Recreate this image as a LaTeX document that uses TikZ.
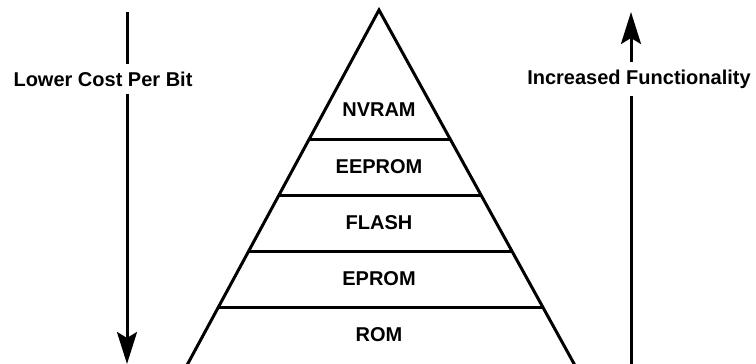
\documentclass[tikz,border=0pt]{standalone}
\usepackage{fontspec}
\setmainfont{Liberation Sans}
\usetikzlibrary{arrows.meta}
\begin{document}
\begin{tikzpicture}[x=1pt,y=-1pt,
  edge/.style={line width=3pt},
  lbl/.style={font=\fontsize{20}{23}\selectfont\bfseries, inner sep=1pt},
  side/.style={font=\fontsize{20}{23}\selectfont\bfseries, fill=white, inner xsep=3pt, inner ysep=8pt},
  arr/.style={line width=3pt, -{Stealth[length=32pt,width=20pt,inset=6pt]}}]
\useasboundingbox (0,0) rectangle (756,364);
\clip (0,0) rectangle (756,364);
% triangle
\coordinate (apex) at (379,10);
\coordinate (bl) at (179,380);
\coordinate (br) at (583,380);
\draw[edge, line join=miter] (bl) -- (apex) -- (br);
% horizontal dividers
\coordinate (l1) at (309,139); \coordinate (r1) at (450,139);
\coordinate (l2) at (279,195); \coordinate (r2) at (481,195);
\coordinate (l3) at (248,251); \coordinate (r3) at (512,251);
\coordinate (l4) at (218,307); \coordinate (r4) at (543,307);
\draw[edge] (l1) -- (r1);
\draw[edge] (l2) -- (r2);
\draw[edge] (l3) -- (r3);
\draw[edge] (l4) -- (r4);
% labels
\node[lbl] (nvram) at (379,110) {NVRAM};
\node[lbl] (eeprom) at (379,167) {EEPROM};
\node[lbl] (flash) at (379,223) {FLASH};
\node[lbl] (eprom) at (379,279) {EPROM};
\node[lbl] (rom) at (379,335) {ROM};
% arrows
\coordinate (lt) at (127,12);
\coordinate (lb) at (127,364);
\draw[arr] (lt) -- (lb);
\node[side] (cost) at (103,79) {Lower Cost Per Bit};
\coordinate (rb) at (631,364);
\coordinate (rt) at (631,12);
\draw[arr] (rb) -- (rt);
\node[side] (func) at (639,79) {Increased Functionality};
\end{tikzpicture}
\end{document}
